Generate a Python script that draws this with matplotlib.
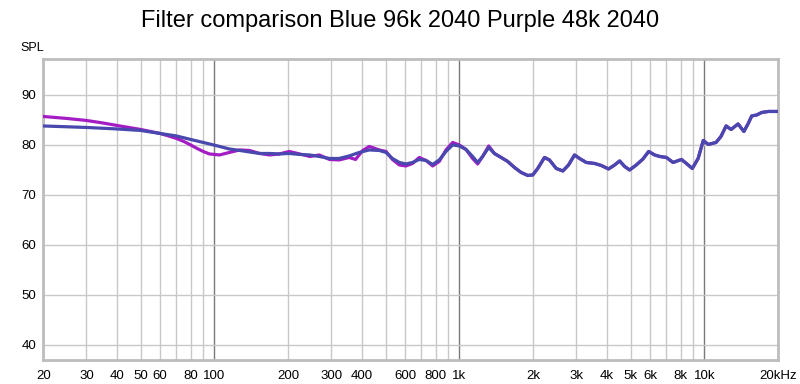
import numpy as np
import matplotlib.pyplot as plt
from matplotlib.ticker import FixedLocator, NullLocator

plt.rcParams['font.family'] = ['Liberation Sans', 'DejaVu Sans']

# shared part above ~1.4 kHz (the two traces sit on top of each other there)
hi_f = [1390, 1481, 1576, 1679, 1788, 1903, 1994, 2090, 2227, 2333, 2487,
        2646, 2792, 2953, 3096, 3297, 3565, 3796, 4067, 4306, 4514, 4730,
        4957, 5279, 5621, 5929, 6272, 6578, 7004, 7459, 8069, 8453, 8936,
        9440, 9906, 10382, 11170, 11700, 12280, 12870, 13740, 14510, 15120,
        15620, 16380, 17170, 18290, 20000]
hi_db = [78.3, 77.5, 76.7, 75.5, 74.5, 73.9, 74.0, 75.3, 77.5, 77.0, 75.3,
         74.8, 76.0, 78.0, 77.3, 76.5, 76.3, 75.9, 75.2, 76.0, 76.8, 75.7,
         75.0, 76.0, 77.2, 78.7, 78.0, 77.7, 77.5, 76.5, 77.1, 76.3, 75.3,
         77.3, 80.9, 80.1, 80.5, 81.7, 83.8, 83.1, 84.2, 82.7, 84.3, 85.8,
         86.0, 86.5, 86.7, 86.7]

# Blue: 96k 2040
blue_f = [20, 30, 40, 50, 60, 70, 80, 90, 95.5, 105, 115, 127, 139, 153, 168,
          184, 202, 223, 245, 268, 295, 323, 355, 390, 429, 471, 502, 533, 569,
          605, 644, 686, 731, 778, 828, 882, 939, 1000, 1065, 1133, 1188, 1245,
          1318] + hi_f
blue_db = [83.8, 83.5, 83.2, 82.9, 82.3, 81.8, 81.1, 80.5, 80.2, 79.7, 79.2,
           78.9, 78.6, 78.3, 78.3, 78.2, 78.3, 78.1, 78.0, 77.7, 77.3, 77.3,
           77.8, 78.5, 79.0, 78.9, 78.5, 77.3, 76.5, 76.2, 76.5, 77.1, 76.9,
           76.1, 77.0, 78.7, 80.0, 79.8, 79.1, 77.7, 76.5, 77.7, 79.5] + hi_db

# Purple: 48k 2040
purple_f = [20, 25, 30, 35, 40, 50, 60, 65, 70, 75, 80, 85, 90, 95.5, 105, 115,
            127, 139, 153, 168, 184, 202, 223, 245, 268, 295, 323, 355, 377,
            403, 429, 471, 502, 533, 569, 605, 644, 686, 731, 778, 828, 882,
            939, 1000, 1065, 1133, 1188, 1245, 1318] + hi_f
purple_db = [85.7, 85.3, 84.9, 84.4, 83.9, 83.1, 82.3, 81.8, 81.3, 80.7, 80.0,
             79.3, 78.7, 78.2, 78.0, 78.5, 79.0, 78.9, 78.3, 78.0, 78.2, 78.7,
             78.2, 77.7, 78.0, 77.1, 77.0, 77.5, 77.1, 78.9, 79.7, 79.0, 78.7,
             77.1, 76.0, 75.8, 76.3, 77.5, 76.9, 75.8, 76.7, 79.0, 80.5, 80.0,
             79.1, 77.3, 76.2, 77.7, 79.8] + hi_db

x_ticks = [20, 30, 40, 50, 60, 80, 100, 200, 300, 400, 600, 800, 1000, 2000,
           3000, 4000, 5000, 6000, 8000, 10000, 20000]
x_labels = ['20', '30', '40', '50', '60', '80', '100', '200', '300', '400',
            '600', '800', '1k', '2k', '3k', '4k', '5k', '6k', '8k', '10k', '20kHz']
y_ticks = [40, 50, 60, 70, 80, 90]

fig = plt.figure(figsize=(8, 3.84), dpi=100)
ax = fig.add_axes([0.054, 0.0625, 0.9185, 0.784])
ax.set_xscale('log')
ax.set_xlim(20, 20000)
ax.set_ylim(37, 97.2)

# grid: light lines each 1-9 step, darker at decades
minor = [m * d for d in (10, 100, 1000) for m in range(2, 10)] + [20000]
for f in minor:
    ax.axvline(f, color='#c8c8c8', lw=1, zorder=1)
for f in (100, 1000, 10000):
    ax.axvline(f, color='#7a7a7a', lw=1, zorder=1)
for y in y_ticks:
    ax.axhline(y, color='#c8c8c8', lw=1, zorder=1)

ax.plot(purple_f, purple_db, color='#a41cc4', lw=2.3, zorder=3,
        solid_joinstyle='round', solid_capstyle='round')
ax.plot(blue_f, blue_db, color='#4848ae', lw=2.3, zorder=4,
        solid_joinstyle='round', solid_capstyle='round')

ax.xaxis.set_major_locator(FixedLocator(x_ticks))
ax.xaxis.set_minor_locator(NullLocator())
ax.set_xticklabels(x_labels)
ax.set_yticks(y_ticks)
ax.tick_params(length=0, labelsize=9.5, pad=7)
ax.tick_params(axis='y', pad=5)

for s in ax.spines.values():
    s.set_color('#bdbdbd')
    s.set_linewidth(2)

fig.text(0.5, 0.945, 'Filter comparison Blue 96k 2040 Purple 48k 2040',
         ha='center', va='center', fontsize=17)
fig.text(0.025, 0.875, 'SPL', ha='left', va='center', fontsize=9)

fig.savefig('out.png', dpi=100)
